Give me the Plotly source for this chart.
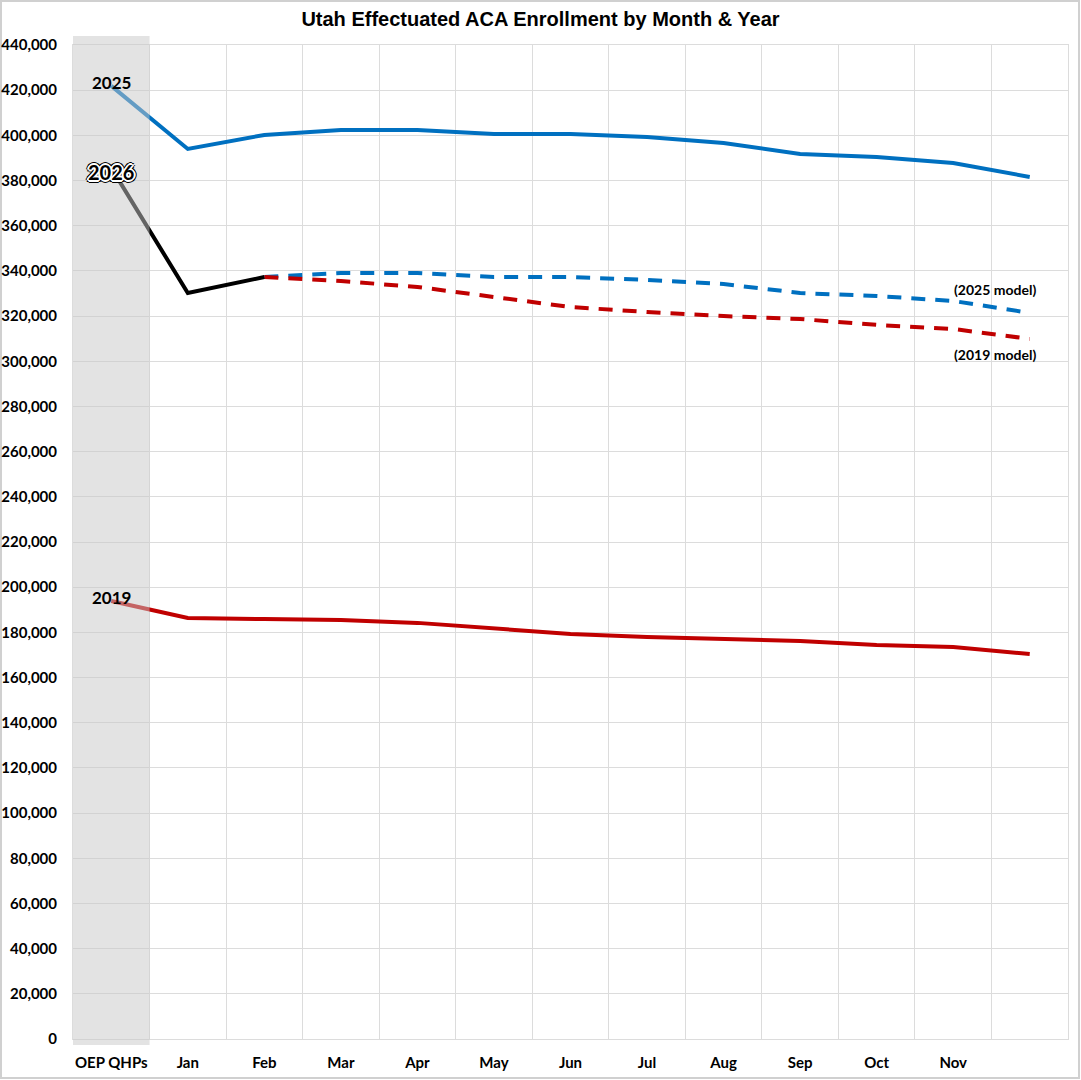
import plotly.graph_objects as go

# 数据
months = ["OEP QHPs", "Jan", "Feb", "Mar", "Apr", "May", "Jun",
          "Jul", "Aug", "Sep", "Oct", "Nov", "Dec"]
tick_labels = ["OEP QHPs", "Jan", "Feb", "Mar", "Apr", "May", "Jun",
               "Jul", "Aug", "Sep", "Oct", "Nov", ""]

enroll_2025 = [421900, 394000, 400200, 402400, 402400, 400600, 400600,
               399300, 396600, 391800, 390400, 387800, 381600]
enroll_2026 = [385600, 330200, 337300]
model_2025 = [None, None, 337300, 339100, 339100, 337300, 337300,
              336000, 334200, 330200, 328900, 326700, 321400]
model_2019 = [None, None, 337300, 335500, 332900, 328500, 324000,
              321800, 320000, 318700, 316100, 314300, 309900]
enroll_2019 = [193900, 186400, 185900, 185500, 184200, 181900, 179300,
               178000, 177100, 176200, 174400, 173500, 170400]

y_ticks = list(range(0, 440001, 20000))

BLUE = "#0070C0"
RED = "#C00000"
FONT = "Lato, Open Sans, sans-serif"
TICK_FONT = dict(family=FONT, size=15, color="black", weight="bold")

fig = go.Figure()

fig.add_trace(go.Scatter(x=months, y=enroll_2025, mode="lines", name="2025",
                         line=dict(color=BLUE, width=4)))
fig.add_trace(go.Scatter(x=months, y=enroll_2019, mode="lines", name="2019",
                         line=dict(color=RED, width=4)))
fig.add_trace(go.Scatter(x=months, y=model_2025, mode="lines", name="2025 model",
                         line=dict(color=BLUE, width=4, dash="14px,10px")))
fig.add_trace(go.Scatter(x=months, y=model_2019, mode="lines", name="2019 model",
                         line=dict(color=RED, width=4, dash="14px,10px")))
fig.add_trace(go.Scatter(x=months[:3], y=enroll_2026, mode="lines", name="2026",
                         line=dict(color="black", width=4)))

# OEP 灰色遮罩（覆盖在线上方）
fig.add_shape(type="rect", xref="x", yref="paper", x0=-0.5, x1=0.5,
              y0=-6 / 994, y1=1 + 9 / 994, layer="above", line=dict(width=0),
              fillcolor="rgba(200,200,200,0.5)")

# 外框
fig.add_shape(type="rect", xref="paper", yref="paper",
              x0=-72 / 995, x1=1 + 11 / 995, y0=-39 / 994, y1=1 + 44 / 994,
              line=dict(color="#d0d0d0", width=2), layer="below")

label_font = dict(family=FONT, size=17, color="black", weight="bold")
fig.add_annotation(x=0, y=enroll_2025[0], text="2025", showarrow=False,
                   yshift=3, font=label_font)
fig.add_annotation(x=0, y=enroll_2019[0], text="2019", showarrow=False,
                   yshift=3, font=label_font)
outline = ", ".join(f"{dx}px {dy}px 0 #fff" for dx, dy in
                    [(1, 1), (-1, -1), (1, -1), (-1, 1), (2, 0), (-2, 0), (0, 2), (0, -2)])
outline += ", " + ", ".join(f"{dx}px {dy}px 0 #000" for dx, dy in
                            [(3, 0), (-3, 0), (0, 3), (0, -3), (2, 2), (-2, -2), (2, -2), (-2, 2)])
fig.add_annotation(x=0, y=enroll_2026[0], text="2026", showarrow=False,
                   yshift=-4,
                   font=dict(family=FONT, size=20, color="black", weight="bold",
                             shadow=outline))

small_font = dict(family=FONT, size=14, color="black", weight="bold")
fig.add_annotation(x=11.55, y=331600, text="(2025 model)", showarrow=False, font=small_font)
fig.add_annotation(x=11.55, y=303200, text="(2019 model)", showarrow=False, font=small_font)

fig.update_layout(
    width=1081, height=1080,
    margin=dict(l=73, r=13, t=45, b=41, autoexpand=False),
    paper_bgcolor="white", plot_bgcolor="white",
    showlegend=False,
    title=dict(text="Utah Effectuated ACA Enrollment by Month & Year",
               x=0.5, xanchor="center", y=1 - 19 / 1080, yanchor="middle",
               font=dict(family="Liberation Sans, Arial, sans-serif", size=20,
                         color="black", weight="bold")),
)

fig.update_xaxes(type="category", tickmode="array", tickvals=months, ticktext=tick_labels,
                 range=[-0.5, 12.5], tickson="boundaries", ticks="", tickangle=0,
                 automargin=False,
                 showgrid=True, gridcolor="#dcdcdc", gridwidth=1,
                 showline=True, linecolor="#dcdcdc", mirror=True,
                 tickfont=TICK_FONT, ticklabelstandoff=10)
fig.update_yaxes(range=[0, 440000], tickvals=y_ticks, tickformat=",", automargin=False,
                 showgrid=True, gridcolor="#dcdcdc", gridwidth=1,
                 showline=True, linecolor="#dcdcdc", mirror=True,
                 zeroline=False, ticks="", tickfont=TICK_FONT, ticklabelstandoff=12)

fig.write_html("out.html", config={"displayModeBar": False},
               post_script="document.body.style.margin='0px';")
